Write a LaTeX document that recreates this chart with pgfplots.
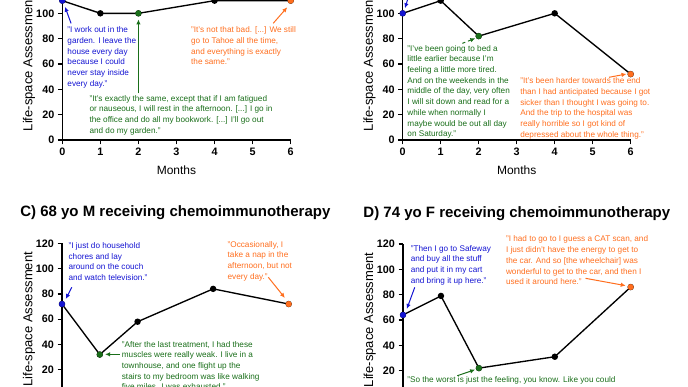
\documentclass[border=0pt]{standalone}
\usepackage{fontspec}
\setmainfont{Liberation Sans}
\usepackage{pgfplots}
\pgfplotsset{compat=1.18}
\usetikzlibrary{arrows.meta}
\definecolor{myblue}{RGB}{20,20,210}
\definecolor{mygreen}{RGB}{25,110,25}
\definecolor{myorange}{RGB}{255,110,30}
\pgfplotsset{
  panel/.style={
    scale only axis, anchor=south west,
    xmin=0, xmax=6, ymin=0, ymax=120,
    axis lines=left, axis line style={line width=1.5pt,-},
    xtick={0,...,6}, ytick={0,20,...,120},
    tick align=outside, major tick length=4.5pt,
    tick style={line width=1.3pt,black},
    ticklabel style={font=\bfseries\fontsize{10.8}{12}\selectfont},
    /pgf/number format/assume math mode=true,
    xlabel={Months}, ylabel={Life-space Assessment},
    xlabel style={font=\fontsize{12}{14}\selectfont, at={(axis description cs:0.5,-0.197)}, anchor=center},
    ylabel style={font=\fontsize{13}{15}\selectfont, at={(axis description cs:-0.146,0.5)}, anchor=center},
    title style={font=\bfseries\fontsize{15}{17}\selectfont, at={(axis description cs:0.5,1)}, anchor=center, yshift=24.5pt},
    clip=false,
  },
}
\tikzset{
  dataline/.style={black, line width=1.35pt, mark=*, mark size=2.5pt, mark options={solid}},
  cmark/.style={only marks, mark=*, mark size=2.8pt, color=#1, mark options={fill=#1, draw=#1}},
  quote/.style={anchor=north west, inner sep=0pt, align=left, font=\fontsize{8.2}{10.7}\selectfont},
  qarrow/.style={#1, line width=1pt, -{Latex[length=5pt,width=4.5pt]}},
}
\begin{document}
\begin{tikzpicture}
\useasboundingbox (0,0) rectangle (688pt,387pt);
\clip (0,0) rectangle (688pt,387pt);

% Panel A
\begin{axis}[panel, width=228.4pt, height=152pt, at={(62.3pt,247pt)}]
\addplot[dataline] coordinates {(0,110) (1,100) (2,100) (4,110) (6,110)};
\addplot[cmark=myblue] coordinates {(0,110)};
\addplot[cmark=mygreen] coordinates {(2,100)};
\addplot[cmark=myorange] coordinates {(6,110)};
\node[quote, text=myblue] at (axis cs:0.13,89.4) {"I work out in the\\garden. I leave the\\house every day\\because I could\\never stay inside\\every day."};
\draw[qarrow=myblue] (axis cs:0.23,92.1) -- (axis cs:0.07,105.2);
\node[quote, text=mygreen] at (axis cs:0.71,35.5) {"It's exactly the same, except that if I am fatigued\\or nauseous, I will rest in the afternoon. [...] I go in\\the office and do all my bookwork. [...] I'll go out\\and do my garden."};
\draw[qarrow=mygreen] (axis cs:2,36.8) -- (axis cs:2,95.2);
\node[quote, text=myorange] at (axis cs:3.38,89.4) {"It's not that bad. [...] We still\\go to Tahoe all the time,\\and everything is exactly\\the same."};
\draw[qarrow=myorange] (axis cs:5.54,92.1) -- (axis cs:5.91,104.8);
\end{axis}

% Panel B
\begin{axis}[panel, width=228pt, height=152pt, at={(402.7pt,247pt)}]
\addplot[dataline] coordinates {(0,100) (1,110) (2,82) (4,100) (6,52)};
\addplot[cmark=myblue] coordinates {(0,100)};
\addplot[cmark=mygreen] coordinates {(2,82)};
\addplot[cmark=myorange] coordinates {(6,52)};
\draw[qarrow=myblue] (axis cs:0.2,118) -- (axis cs:0.06,104);
\node[quote, text=mygreen] at (axis cs:0.12,75) {"I've been going to bed a\\little earlier because I'm\\feeling a little more tired.\\And on the weekends in the\\middle of the day, very often\\I will sit down and read for a\\while when normally I\\maybe would be out all day\\on Saturday."};
\draw[qarrow=mygreen, dashed] (axis cs:1.57,76.3) -- (axis cs:1.91,80.3);
\node[quote, text=myorange] at (axis cs:3.09,49.2) {"It's been harder towards the end\\than I had anticipated because I got\\sicker than I thought I was going to.\\And the trip to the hospital was\\really horrible so I got kind of\\depressed about the whole thing."};
\draw[qarrow=myorange] (axis cs:5.43,49.5) -- (axis cs:5.89,52.1);
\end{axis}

% Panel C
\begin{axis}[panel, width=226.7pt, height=151.6pt, at={(62pt,-8pt)},
  title={C) 68 yo M receiving chemoimmunotherapy}]
\addplot[dataline] coordinates {(0,72) (1,32) (2,58) (4,84) (6,72)};
\addplot[cmark=myblue] coordinates {(0,72)};
\addplot[cmark=mygreen] coordinates {(1,32)};
\addplot[cmark=myorange] coordinates {(6,72)};
\node[quote, text=myblue] at (axis cs:0.17,120.8) {"I just do household\\chores and lay\\around on the couch\\and watch television."};
\draw[qarrow=myblue] (axis cs:0.26,85.3) -- (axis cs:0.1,76);
\node[quote, text=myorange] at (axis cs:4.38,122) {"Occasionally, I\\take a nap in the\\afternoon, but not\\every day."};
\draw[qarrow=myorange] (axis cs:5.46,93.2) -- (axis cs:5.9,76.8);
\node[quote, text=mygreen] at (axis cs:1.58,42.7) {"After the last treatment, I had these\\muscles were really weak. I live in a\\townhouse, and one flight up the\\stairs to my bedroom was like walking\\five miles. I was exhausted."};
\draw[qarrow=mygreen] (axis cs:1.53,32.2) -- (axis cs:1.14,32.2);
\end{axis}

% Panel D
\begin{axis}[panel, width=227.7pt, height=152pt, at={(403pt,-9pt)},
  title={D) 74 yo F receiving chemoimmunotherapy}]
\addplot[dataline] coordinates {(0,64) (1,79) (2,22) (4,31) (6,86)};
\addplot[cmark=myblue] coordinates {(0,64)};
\addplot[cmark=mygreen] coordinates {(2,22)};
\addplot[cmark=myorange] coordinates {(6,86)};
\node[quote, text=myblue] at (axis cs:0.2,119.2) {"Then I go to Safeway\\and buy all the stuff\\and put it in my cart\\and bring it up here."};
\draw[qarrow=myblue] (axis cs:0.31,85.8) -- (axis cs:0.1,68.7);
\node[quote, text=myorange] at (axis cs:2.71,126.5) {"I had to go to I guess a CAT scan, and\\I just didn't have the energy to get to\\the car. And so [the wheelchair] was\\wonderful to get to the car, and then I\\used it around here."};
\draw[qarrow=myorange] (axis cs:4.81,92.9) -- (axis cs:5.87,87.1);
\node[quote, text=mygreen] at (axis cs:0.11,15.2) {"So the worst is just the feeling, you know. Like you could\\just stay in bed all day, but you know you just can't do that."};
\draw[qarrow=mygreen] (axis cs:1.43,16) -- (axis cs:1.9,20.8);
\end{axis}
\end{tikzpicture}
\end{document}
